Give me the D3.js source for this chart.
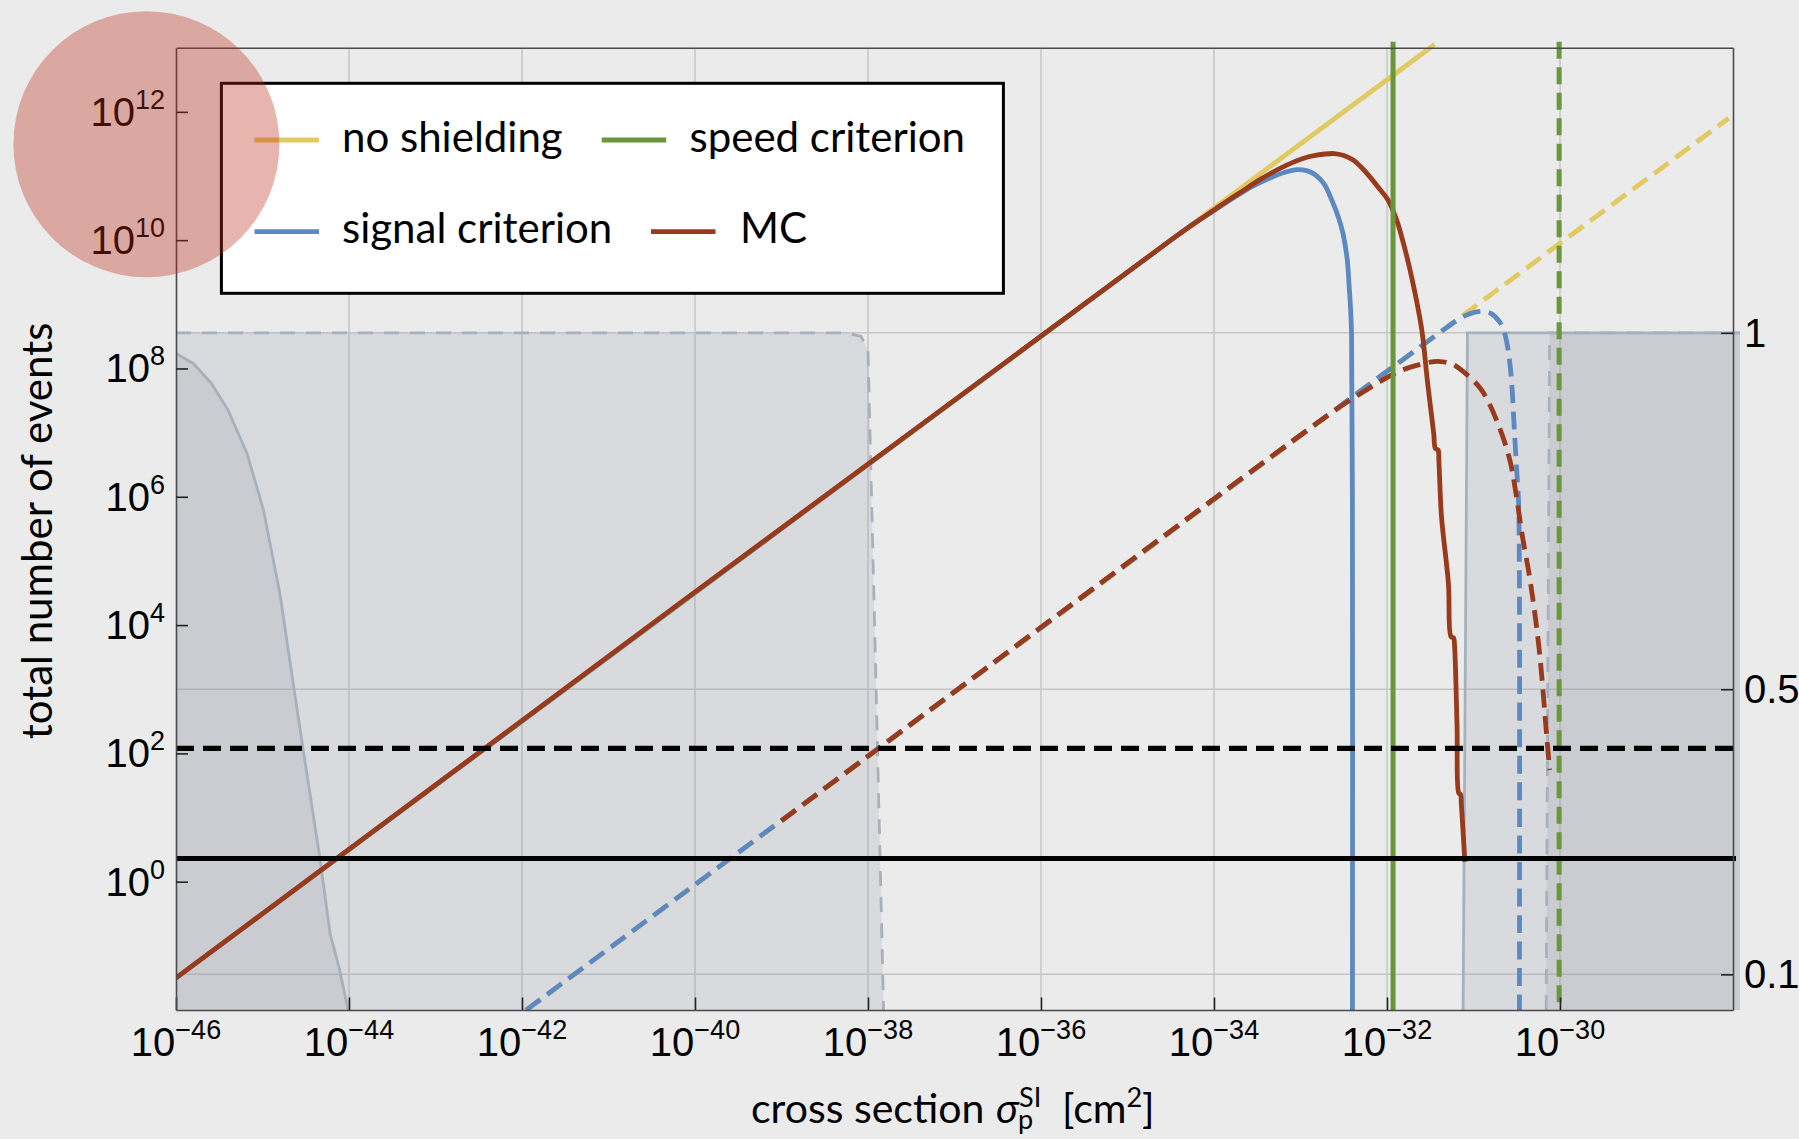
<!DOCTYPE html>
<html>
<head>
<meta charset="utf-8">
<script src="https://cdn.jsdelivr.net/npm/d3@7"></script>
<style>
  body { margin: 0; background: #ebebeb; }
  .tick-font { font-family: "Liberation Sans Narrow", "Liberation Sans", Arial, sans-serif; fill: #000; }
  .title-font { font-family: Lato, "Open Sans", sans-serif; fill: #000; }
</style>
</head>
<body>
<div class="chart"></div>
<script>
// all curve points are [log10(sigma / cm^2), log10(N)]
var xTickExp = [-46, -44, -42, -40, -38, -36, -34, -32, -30];
var yTickExp = [0, 2, 4, 6, 8, 10, 12];
var rightTicks = [1, 0.5, 0.1];
var rightTickLabels = ["1", "0.5", "0.1"];

var noShielding = [[-46, -1.5], [-31.45, 13.05]];
var noShieldingDash = [[-42.2, -2.25], [-28.05, 11.9]];

var signalSolid = [[-46, -1.5], [-34.5, 10.0], [-34.2, 10.29], [-34.0, 10.46], [-33.75, 10.68],
  [-33.54, 10.85], [-33.3, 11.0], [-33.15, 11.07], [-33.04, 11.10], [-32.92, 11.08], [-32.83, 11.02],
  [-32.73, 10.88], [-32.64, 10.63], [-32.56, 10.35], [-32.51, 10.11], [-32.46, 9.7], [-32.44, 9.33],
  [-32.42, 8.9], [-32.41, 8.55], [-32.40, 6], [-32.40, -3]];

var signalDash = [[-42.2, -2.25], [-31.4, 8.55], [-31.2, 8.74], [-31.05, 8.85], [-30.91, 8.89],
  [-30.8, 8.86], [-30.70, 8.73], [-30.64, 8.55], [-30.60, 8.29], [-30.56, 7.8], [-30.53, 7.09],
  [-30.50, 6.4], [-30.48, 5.95], [-30.47, 4.91], [-30.47, -3]];

var mcSolid = [[-46, -1.5], [-34.5, 10.0], [-34.0, 10.47], [-33.7, 10.74], [-33.45, 10.96],
  [-33.16, 11.17], [-32.98, 11.27], [-32.83, 11.32], [-32.61, 11.35], [-32.5, 11.32], [-32.39, 11.25],
  [-32.30, 11.14], [-32.20, 10.99], [-32.1, 10.82], [-31.99, 10.63], [-31.89, 10.32], [-31.80, 9.90],
  [-31.70, 9.33], [-31.60, 8.62], [-31.53, 7.77], [-31.46, 6.99], [-31.44, 6.75], [-31.41, 6.73],
  [-31.40, 6.55], [-31.37, 5.69], [-31.29, 4.65], [-31.26, 3.82], [-31.23, 3.80], [-31.22, 3.70],
  [-31.19, 2.42], [-31.17, 1.38], [-31.15, 1.36], [-31.14, 1.20], [-31.10, 0.31]];

var mcDash = [[-39.0, 0.95], [-32.6, 7.35], [-32.35, 7.57], [-32.1, 7.78], [-31.87, 7.95],
  [-31.68, 8.04], [-31.5, 8.10], [-31.41, 8.11], [-31.25, 8.07], [-31.10, 7.93], [-30.91, 7.67],
  [-30.72, 7.15], [-30.58, 6.57], [-30.51, 6.06], [-30.44, 5.43], [-30.34, 4.65], [-30.24, 3.61],
  [-30.15, 2.21], [-30.12, 1.74]];

var speedSolidExp = -31.93;
var speedDashExp = -30.01;
var eventsSolid = 2.3;
var eventsDash = 120;

// shaded regions: [log10(sigma), fraction on right axis]
var regionLowDash = [[-46, 1.0], [-38.25, 1.0], [-38.08, 0.995], [-38.0, 0.975], [-37.91, 0.52], [-37.82, 0.05]];
var regionLowSolid = [[-46, 0.971], [-45.80, 0.957], [-45.59, 0.929], [-45.40, 0.892], [-45.18, 0.831],
  [-44.99, 0.752], [-44.80, 0.635], [-44.64, 0.504], [-44.53, 0.415], [-44.34, 0.266], [-44.22, 0.158],
  [-44.11, 0.107], [-44.01, 0.05]];
var regionHighSolid = [[-31.12, 0.05], [-31.07, 1.0], [-27.92, 1.0]];
var regionHighDash = [[-30.16, 0.05], [-30.12, 1.0], [-27.92, 1.0]];

var svgWidth = 1799;
var svgHeight = 1139;
var plotLeft = 176, plotRight = 1733, plotTop = 47.7, plotBottom = 1010;

var colors = {
    yellow: "#e2ca62",
    blue: "#5d89c2",
    red: "#983a1b",
    green: "#6a963c",
    region: "rgba(145,152,165,0.2)",
    regionEdge: "#a7b1bd"
};

var svg = d3.select(".chart")
    .append("svg")
    .attr("width", svgWidth)
    .attr("height", svgHeight);

svg.append("rect")
    .attr("width", svgWidth)
    .attr("height", svgHeight)
    .attr("fill", "#ebebeb");

var x = d3.scaleLog().domain([1e-46, 1e-28]).range([plotLeft, plotRight]);
var y = d3.scaleLog().domain([1e-2, 1e13]).range([plotBottom, plotTop]);
var yRight = d3.scaleLinear().domain([0.05, 1.4]).range([plotBottom, plotTop]);

function px(d) { return x(Math.pow(10, d[0])); }
function py(d) { return y(Math.pow(10, d[1])); }
function pyR(d) { return yRight(d[1]); }

svg.append("defs").append("clipPath")
    .attr("id", "plotClip")
    .append("rect")
    .attr("x", plotLeft)
    .attr("y", plotTop - 7)
    .attr("width", plotRight - plotLeft + 9)
    .attr("height", plotBottom - plotTop + 7);

var plot = svg.append("g").attr("clip-path", "url(#plotClip)");

// grid
plot.selectAll(".vgrid")
    .data(xTickExp.slice(1))
    .enter()
    .append("line")
    .attr("x1", function(e) { return x(Math.pow(10, e)); })
    .attr("x2", function(e) { return x(Math.pow(10, e)); })
    .attr("y1", plotTop)
    .attr("y2", plotBottom)
    .attr("stroke", "#c6c6c6")
    .attr("stroke-width", 1.5);

plot.selectAll(".hgrid")
    .data(rightTicks)
    .enter()
    .append("line")
    .attr("x1", plotLeft)
    .attr("x2", plotRight)
    .attr("y1", function(v) { return yRight(v); })
    .attr("y2", function(v) { return yRight(v); })
    .attr("stroke", "#c6c6c6")
    .attr("stroke-width", 1.5);

// shaded regions
var regionArea = d3.area().x(px).y0(yRight(0.05)).y1(pyR);
var regionLine = d3.line().x(px).y(pyR);

[regionLowDash, regionLowSolid, regionHighSolid, regionHighDash].forEach(function(r) {
    plot.append("path")
        .attr("d", regionArea(r))
        .attr("fill", colors.region);
});

[[regionLowDash, true], [regionLowSolid, false], [regionHighSolid, false], [regionHighDash, true]].forEach(function(r) {
    plot.append("path")
        .attr("d", regionLine(r[0]))
        .attr("fill", "none")
        .attr("stroke", colors.regionEdge)
        .attr("stroke-width", 2.8)
        .attr("stroke-dasharray", r[1] ? "15,11" : null);
});

// curves
var curveLine = d3.line().x(px).y(py).curve(d3.curveCatmullRom.alpha(0.5));

function drawCurve(data, color, dashed) {
    plot.append("path")
        .attr("d", curveLine(data))
        .attr("fill", "none")
        .attr("stroke", color)
        .attr("stroke-width", 4.8)
        .attr("stroke-linejoin", "round")
        .attr("stroke-dasharray", dashed ? "18,8.5" : null);
}

drawCurve(noShielding, colors.yellow, false);
drawCurve(noShieldingDash, colors.yellow, true);
drawCurve(signalSolid, colors.blue, false);
drawCurve(signalDash, colors.blue, true);
drawCurve(mcSolid, colors.red, false);
drawCurve(mcDash, colors.red, true);

// speed criterion
[[speedSolidExp, false], [speedDashExp, true]].forEach(function(s) {
    plot.append("line")
        .attr("x1", x(Math.pow(10, s[0])))
        .attr("x2", x(Math.pow(10, s[0])))
        .attr("y1", plotTop - 6)
        .attr("y2", plotBottom + 2)
        .attr("stroke", colors.green)
        .attr("stroke-width", 5)
        .attr("stroke-dasharray", s[1] ? "17,8.5" : null);
});

// event thresholds
[[eventsSolid, false], [eventsDash, true]].forEach(function(s) {
    svg.append("line")
        .attr("x1", plotLeft)
        .attr("x2", plotRight + 3)
        .attr("y1", y(s[0]))
        .attr("y2", y(s[0]))
        .attr("stroke", "#000")
        .attr("stroke-width", 5.2)
        .attr("stroke-dasharray", s[1] ? "18,9" : null);
});

// axes
function styleAxis(g) {
    g.select(".domain").attr("stroke", "#4a4a4a").attr("stroke-width", 1.6);
    g.selectAll(".tick line").attr("stroke", "#222").attr("stroke-width", 1.6);
}

svg.append("g")
    .attr("transform", "translate(0," + plotBottom + ")")
    .call(d3.axisBottom(x).tickValues(xTickExp.map(function(e) { return Math.pow(10, e); }))
        .tickSizeInner(-12.5).tickSizeOuter(0).tickFormat(""))
    .call(styleAxis);

svg.append("g")
    .attr("transform", "translate(" + plotLeft + ",0)")
    .call(d3.axisLeft(y).tickValues(yTickExp.map(function(e) { return Math.pow(10, e); }))
        .tickSizeInner(-12).tickSizeOuter(0).tickFormat(""))
    .call(styleAxis);

svg.append("g")
    .attr("transform", "translate(" + plotRight + ",0)")
    .call(d3.axisRight(yRight).tickValues(rightTicks).tickSizeInner(-12).tickSizeOuter(0).tickFormat(""))
    .call(styleAxis);

svg.append("g")
    .attr("transform", "translate(0," + plotTop + ")")
    .call(d3.axisTop(x).tickValues([]).tickSizeOuter(0))
    .call(styleAxis);

// tick labels
var xLabels = svg.selectAll(".xlab")
    .data(xTickExp)
    .enter()
    .append("text")
    .attr("class", "tick-font")
    .attr("x", function(e) { return x(Math.pow(10, e)); })
    .attr("y", 1056)
    .attr("text-anchor", "middle");
xLabels.append("tspan").attr("font-size", 40).text("10");
xLabels.append("tspan").attr("font-size", 27).attr("dy", -17)
    .text(function(e) { return "\u2212" + Math.abs(e); });

var yLabels = svg.selectAll(".ylab")
    .data(yTickExp)
    .enter()
    .append("text")
    .attr("class", "tick-font")
    .attr("x", 165)
    .attr("y", function(e) { return y(Math.pow(10, e)) + 14; })
    .attr("text-anchor", "end");
yLabels.append("tspan").attr("font-size", 40).text("10");
yLabels.append("tspan").attr("font-size", 27).attr("dy", -17).text(function(e) { return e; });

svg.selectAll(".rlab")
    .data(rightTicks)
    .enter()
    .append("text")
    .attr("class", "tick-font")
    .attr("x", 1744)
    .attr("y", function(v) { return yRight(v) + 14; })
    .attr("font-size", 40)
    .text(function(v, i) { return rightTickLabels[i]; });

// axis titles
svg.append("text")
    .attr("class", "title-font")
    .attr("transform", "translate(52,531) rotate(-90)")
    .attr("text-anchor", "middle")
    .attr("font-size", 42)
    .text("total number of events");

var xTitle = svg.append("text")
    .attr("class", "title-font")
    .attr("y", 1122.7)
    .attr("font-size", 41);
xTitle.append("tspan").attr("x", 751).text("cross section ");
xTitle.append("tspan").attr("x", 996).attr("font-style", "italic").text("\u03c3");
xTitle.append("tspan").attr("x", 1019).attr("y", 1106.7).attr("font-size", 27).text("SI");
xTitle.append("tspan").attr("x", 1018).attr("y", 1129).attr("font-size", 27).text("p");
xTitle.append("tspan").attr("x", 1062).attr("y", 1122.7).text("[cm");
xTitle.append("tspan").attr("y", 1106.7).attr("font-size", 27).text("2");
xTitle.append("tspan").attr("y", 1122.7).text("]");

// legend
var legend = svg.append("g");
legend.append("rect")
    .attr("x", 221.4)
    .attr("y", 83.3)
    .attr("width", 782)
    .attr("height", 210)
    .attr("fill", "#fff")
    .attr("stroke", "#000")
    .attr("stroke-width", 3);

var legendItems = [
    { label: "no shielding", color: colors.yellow, lx: 254.5, tx: 342, ly: 140 },
    { label: "speed criterion", color: colors.green, lx: 601.7, tx: 689.5, ly: 140 },
    { label: "signal criterion", color: colors.blue, lx: 254.5, tx: 342, ly: 231.7 },
    { label: "MC", color: colors.red, lx: 651, tx: 740, ly: 231.7 }
];

legendItems.forEach(function(item) {
    legend.append("line")
        .attr("x1", item.lx)
        .attr("x2", item.lx + 64.5)
        .attr("y1", item.ly)
        .attr("y2", item.ly)
        .attr("stroke", item.color)
        .attr("stroke-width", 4.8);
    legend.append("text")
        .attr("class", "title-font")
        .attr("x", item.tx)
        .attr("y", item.ly + 11.5)
        .attr("font-size", 42)
        .text(item.label);
});

// highlight circle
svg.append("circle")
    .attr("cx", 146.4)
    .attr("cy", 144.2)
    .attr("r", 133)
    .attr("fill", "rgb(189,44,24)")
    .attr("fill-opacity", 0.35);
</script>
</body>
</html>
